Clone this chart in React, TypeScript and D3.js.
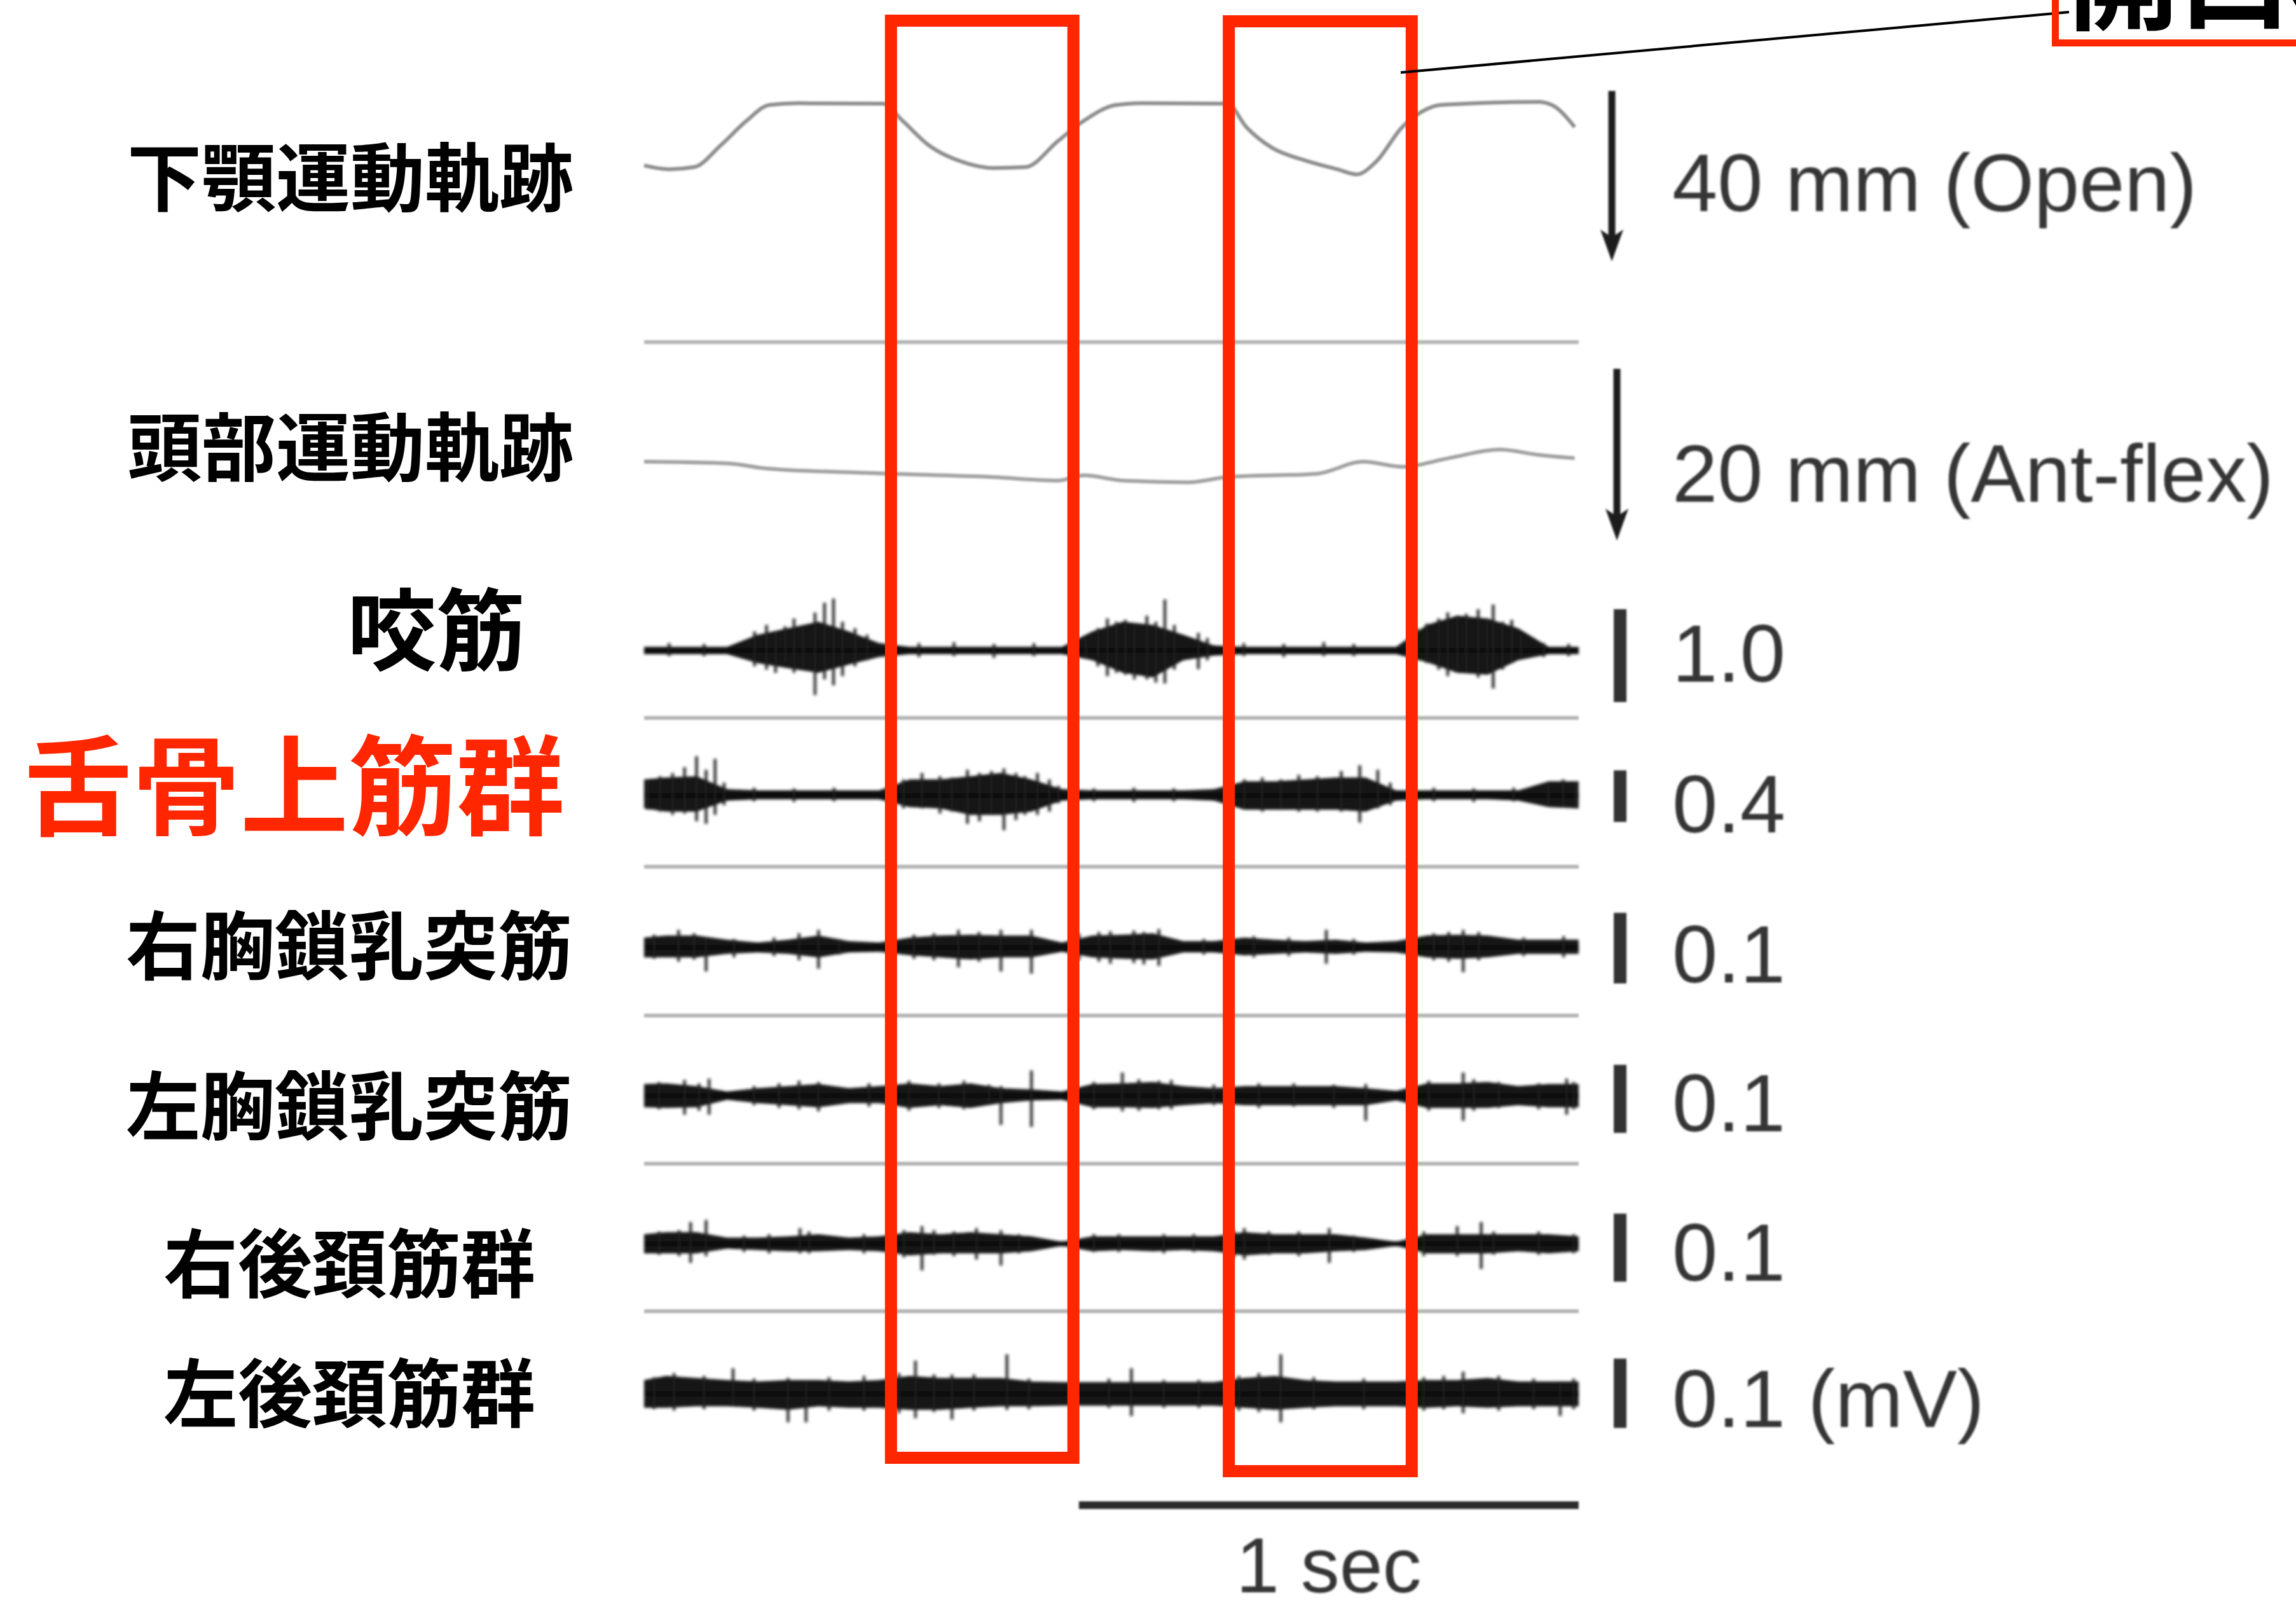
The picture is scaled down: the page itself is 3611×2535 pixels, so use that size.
import React from 'react';
import * as d3 from 'd3';

const W = 3611;
const H = 2535;

// time axis, seconds
const totalSec = 1.87;
const timeBarSec = [0.87, 1.87];
const openPhases = [[0.494, 0.859], [1.170, 1.536]];

// jaw movement (mm of opening, down = open)
const jawT = [0.0, 0.05, 0.10, 0.154, 0.205, 0.251, 0.309, 0.478, 0.517, 0.569, 0.646, 0.698, 0.763, 0.828, 0.880, 0.945, 0.997, 1.167, 1.205, 1.257, 1.322, 1.387, 1.426, 1.464, 1.517, 1.556, 1.594, 1.789, 1.816, 1.862];
const jawMm = [14.5, 15.4, 14.9, 9.7, 4.0, 0.3, -0.1, 0.0, 4.0, 9.7, 14.0, 15.1, 14.9, 8.8, 4.0, 0.3, -0.1, 0.0, 5.5, 10.4, 13.3, 15.4, 16.6, 13.7, 5.5, 1.9, 0.3, -0.4, 0.3, 5.5];

// head movement (mm, down = anterior flexion)
const headT = [0.0, 0.167, 0.245, 0.440, 0.698, 0.828, 0.880, 0.958, 1.088, 1.167, 1.347, 1.439, 1.517, 1.609, 1.712, 1.789, 1.862];
const headMm = [0, 0.2, 0.8, 1.3, 1.8, 2.2, 1.6, 2.2, 2.4, 1.8, 1.4, 0, 0.6, -0.4, -1.4, -0.8, -0.4];

// EMG envelopes (uV above / below baseline), sampled at emgTimes
const emgTimes = [0.000, 0.044, 0.105, 0.166, 0.227, 0.288, 0.349, 0.410, 0.470, 0.531, 0.592, 0.653, 0.714, 0.775, 0.836, 0.897, 0.958, 1.018, 1.079, 1.140, 1.201, 1.262, 1.323, 1.384, 1.444, 1.505, 1.566, 1.627, 1.688, 1.749, 1.810, 1.870];

const masseterUp = [40, 40, 40, 40, 170, 240, 310, 205, 80, 40, 40, 40, 40, 40, 40, 205, 310, 275, 170, 55, 40, 40, 40, 40, 40, 40, 275, 375, 345, 240, 40, 40];
const masseterDown = [40, 40, 40, 40, 135, 190, 240, 150, 70, 40, 40, 40, 40, 40, 40, 105, 240, 290, 105, 55, 40, 40, 40, 40, 40, 40, 125, 240, 260, 105, 40, 40];
const suprahyoidUp = [125, 140, 150, 50, 40, 40, 40, 40, 40, 125, 125, 150, 175, 125, 50, 40, 40, 40, 40, 50, 110, 110, 125, 140, 140, 40, 40, 40, 40, 40, 110, 110];
const suprahyoidDown = [100, 125, 125, 40, 30, 30, 30, 30, 30, 90, 100, 150, 150, 125, 40, 30, 30, 30, 30, 40, 110, 110, 110, 110, 125, 40, 30, 30, 30, 40, 90, 100];
const rScmUp = [14, 17, 17, 11, 7, 11, 17, 9, 7, 14, 17, 18, 17, 17, 7, 17, 18, 20, 9, 9, 14, 11, 9, 11, 7, 9, 17, 18, 17, 11, 11, 11];
const rScmDown = [14, 14, 14, 9, 7, 9, 14, 7, 6, 11, 14, 17, 14, 14, 6, 14, 16, 17, 7, 7, 11, 9, 7, 9, 6, 7, 14, 16, 14, 9, 9, 9];
const lScmUp = [17, 18, 14, 6, 11, 14, 17, 11, 14, 18, 14, 18, 11, 9, 6, 17, 18, 20, 14, 11, 14, 14, 14, 14, 11, 7, 18, 18, 20, 14, 17, 17];
const lScmDown = [17, 18, 17, 6, 11, 14, 17, 11, 11, 18, 14, 18, 11, 7, 6, 17, 17, 18, 14, 11, 14, 14, 14, 14, 14, 7, 18, 18, 18, 14, 17, 17];
const rNeckUp = [14, 17, 17, 9, 9, 11, 14, 9, 11, 17, 14, 17, 14, 11, 3, 11, 11, 11, 11, 11, 17, 14, 14, 14, 9, 3, 14, 14, 14, 14, 14, 11];
const rNeckDown = [14, 14, 14, 7, 9, 11, 11, 9, 11, 17, 14, 14, 14, 11, 3, 11, 9, 11, 9, 11, 17, 14, 14, 11, 9, 3, 14, 14, 14, 11, 14, 11];
const lNeckUp = [20, 26, 23, 20, 18, 20, 20, 18, 20, 26, 23, 23, 23, 18, 17, 17, 17, 17, 17, 17, 23, 26, 20, 18, 18, 18, 20, 20, 23, 18, 18, 18];
const lNeckDown = [20, 20, 18, 18, 20, 23, 18, 20, 20, 23, 23, 20, 18, 18, 17, 17, 17, 17, 17, 17, 20, 23, 20, 18, 18, 18, 20, 18, 20, 18, 18, 18];

// single spikes [t, up uV, down uV]
const masseterSpikes = [
  [0.221, 205, 170], [0.245, 275, 205], [0.263, 205, 240], [0.282, 260, 135], [0.300, 345, 240], [0.318, 240, 190],
  [0.342, 410, 480], [0.361, 515, 310], [0.379, 560, 375], [0.397, 310, 275], [0.422, 240, 170], [0.446, 170, 105],
  [0.884, 135, 80], [0.908, 240, 170], [0.927, 345, 275], [0.945, 310, 240], [0.963, 330, 260], [0.981, 275, 310],
  [1.006, 375, 310], [1.024, 310, 345], [1.042, 550, 355], [1.061, 275, 205], [1.109, 190, 200], [1.127, 135, 105],
  [1.547, 240, 105], [1.566, 290, 135], [1.590, 345, 205], [1.608, 410, 275], [1.627, 375, 240], [1.645, 395, 240],
  [1.669, 445, 290], [1.687, 345, 260], [1.699, 495, 410], [1.718, 310, 205], [1.736, 330, 135], [1.754, 170, 80],
  [0.05, 80, 60], [0.12, 70, 60], [0.55, 80, 70], [0.62, 90, 60], [0.70, 70, 80], [0.78, 80, 60],
  [1.20, 80, 60], [1.28, 70, 70], [1.36, 90, 60], [1.42, 70, 60], [1.80, 80, 70], [1.85, 70, 60],
];
const suprahyoidSpikes = [
  [0.008, 125, 110], [0.032, 150, 125], [0.057, 175, 150], [0.081, 220, 140], [0.105, 305, 200], [0.124, 200, 220],
  [0.142, 285, 150], [0.160, 100, 75],
  [0.519, 125, 100], [0.556, 175, 100], [0.592, 150, 140], [0.616, 140, 125], [0.647, 200, 220], [0.671, 175, 200],
  [0.695, 190, 150], [0.720, 210, 270], [0.744, 175, 190], [0.762, 150, 150], [0.787, 175, 150], [0.811, 125, 125], [0.829, 75, 60],
  [1.201, 125, 100], [1.237, 140, 125], [1.274, 125, 110], [1.310, 160, 125], [1.347, 150, 125], [1.395, 190, 125],
  [1.432, 235, 210], [1.468, 200, 100], [1.493, 100, 75], [1.809, 90, 75], [1.839, 125, 90], [1.864, 110, 100],
  [0.22, 60, 45], [0.30, 55, 50], [0.38, 60, 45], [0.90, 55, 45], [0.98, 60, 50], [1.06, 55, 45], [1.58, 60, 45], [1.66, 55, 50], [1.74, 60, 45],
];
const rScmSpikes = [
  [0.069, 25, 20], [0.124, 14, 34], [0.349, 25, 30], [0.629, 25, 28], [0.714, 25, 34], [0.775, 25, 37], [0.933, 23, 23],
  [1.030, 26, 26], [1.365, 25, 23], [1.639, 25, 35],
  [0.02, 18, 16], [0.10, 20, 17], [0.18, 12, 14], [0.26, 14, 12], [0.31, 20, 18], [0.39, 12, 10], [0.54, 18, 16], [0.58, 20, 18],
  [0.67, 22, 20], [0.87, 20, 18], [0.91, 22, 20], [0.98, 24, 22], [1.00, 22, 24], [1.12, 12, 10], [1.22, 16, 14], [1.29, 14, 12],
  [1.42, 12, 10], [1.58, 20, 18], [1.61, 22, 20], [1.67, 22, 18], [1.76, 14, 12], [1.84, 16, 14],
];
const lScmSpikes = [
  [0.081, 23, 28], [0.130, 25, 28], [0.349, 20, 23], [0.714, 14, 43], [0.775, 37, 46], [0.957, 34, 23], [1.055, 23, 20],
  [1.444, 17, 37], [1.639, 34, 37], [1.846, 25, 28],
  [0.03, 20, 20], [0.11, 18, 22], [0.22, 14, 14], [0.27, 18, 18], [0.31, 22, 20], [0.45, 18, 16], [0.53, 22, 22], [0.59, 18, 18],
  [0.64, 22, 20], [0.69, 16, 14], [0.90, 20, 20], [0.99, 24, 22], [1.03, 22, 20], [1.14, 16, 14], [1.23, 18, 18], [1.30, 18, 16],
  [1.38, 16, 18], [1.57, 22, 22], [1.66, 24, 22], [1.71, 20, 18], [1.79, 18, 20], [1.86, 20, 20],
];
const rNeckSpikes = [
  [0.093, 32, 28], [0.124, 35, 18], [0.312, 23, 14], [0.556, 26, 39], [0.665, 23, 23], [0.714, 20, 32], [1.201, 23, 23],
  [1.371, 23, 28], [1.627, 26, 18], [1.675, 32, 37],
  [0.03, 18, 16], [0.07, 20, 18], [0.20, 12, 12], [0.25, 14, 14], [0.33, 18, 14], [0.44, 14, 14], [0.52, 20, 20], [0.58, 20, 16],
  [0.62, 18, 18], [0.75, 14, 14], [0.90, 14, 12], [0.95, 14, 12], [1.04, 14, 14], [1.10, 14, 12], [1.18, 20, 20], [1.25, 18, 16],
  [1.31, 18, 18], [1.42, 12, 12], [1.56, 18, 18], [1.70, 18, 16], [1.79, 18, 16], [1.86, 14, 14],
];
const lNeckSpikes = [
  [0.178, 37, 18], [0.288, 23, 41], [0.324, 18, 41], [0.543, 48, 35], [0.616, 28, 37], [0.726, 57, 23], [0.975, 37, 32],
  [1.274, 57, 41], [1.639, 32, 28], [1.833, 18, 32],
  [0.02, 24, 22], [0.06, 30, 24], [0.12, 26, 22], [0.22, 22, 24], [0.37, 24, 24], [0.44, 26, 24], [0.51, 30, 28], [0.58, 28, 26],
  [0.66, 28, 24], [0.77, 22, 22], [0.86, 20, 20], [0.93, 22, 20], [1.04, 20, 20], [1.11, 20, 20], [1.19, 26, 24], [1.23, 30, 26],
  [1.34, 24, 22], [1.44, 22, 22], [1.56, 24, 24], [1.60, 26, 22], [1.71, 26, 24], [1.78, 22, 22], [1.86, 22, 22],
];

const traceLabels = ['下顎運動軌跡', '頭部運動軌跡'];
const emgLabels = ['咬筋', '舌骨上筋群', '右胸鎖乳突筋', '左胸鎖乳突筋', '右後頚筋群', '左後頚筋群'];
const calValues = [1.0, 0.4, 0.1, 0.1, 0.1, 0.1];
const calLabels = ['1.0', '0.4', '0.1', '0.1', '0.1', '0.1 (mV)'];
const moveCal = [40, 20];
const moveCalLabels = ['40 mm (Open)', '20 mm (Ant-flex)'];
const timeLabel = '1 sec';
const calloutLabel = '開口相';

const emgUp = [masseterUp, suprahyoidUp, rScmUp, lScmUp, rNeckUp, lNeckUp];
const emgDown = [masseterDown, suprahyoidDown, rScmDown, lScmDown, rNeckDown, lNeckDown];
const emgSpikes = [masseterSpikes, suprahyoidSpikes, rScmSpikes, lScmSpikes, rNeckSpikes, lNeckSpikes];

// layout
const emgBase = [1023, 1251, 1490, 1723, 1956, 2192];
const barH = [146, 81, 111, 107, 107, 109];
const barMid = [1031, 1252, 1491, 1728, 1962, 2191];
const calY = [1072, 1309, 1545, 1779, 2014, 2244];
const labelMid = [991, 1237, 1488, 1740, 1988, 2192];
const labelX = [546, 38, 198, 198, 257, 257];
const labelSize = [140, 170, 117, 117, 117, 117];
const separators = [538, 1129, 1363, 1597, 1830, 2062];
const RED = '#ff2600';
const CJK = '"Noto Sans CJK JP", "Noto Sans CJK SC", sans-serif';
const SANS = '"Liberation Sans", Arial, Helvetica, sans-serif';

export default function App() {
  const x = d3.scaleLinear().domain([0, totalSec]).range([1013, 1013 + totalSec * 786]);
  const jawY = d3.scaleLinear().domain([0, 40]).range([163, 163 + 268]);
  const headY = d3.scaleLinear().domain([0, 20]).range([726, 996]);

  const jawPath = d3.line<number>()
    .x((_, i) => x(jawT[i]))
    .y(d => jawY(d))
    .curve(d3.curveMonotoneX)(jawMm);
  const headPath = d3.line<number>()
    .x((_, i) => x(headT[i]))
    .y(d => headY(d))
    .curve(d3.curveMonotoneX)(headMm);

  const moveArrows = [
    { x: 2535, top: 143, len: jawY(moveCal[0]) - jawY(0), textY: 332 },
    { x: 2543, top: 580, len: headY(moveCal[1]) - headY(0), textY: 789 },
  ];

  return (
    <svg width={W} height={H} style={{ position: 'absolute', left: 0, top: 0, background: '#fff' }}>
      <defs>
        <filter id="soft" x="-5%" y="-50%" width="110%" height="200%">
          <feGaussianBlur stdDeviation="2.2" />
        </filter>
        <filter id="softer" x="-5%" y="-20%" width="110%" height="140%">
          <feGaussianBlur stdDeviation="1.4" />
        </filter>
      </defs>
      <rect width={W} height={H} fill="#fff" />

      {/* left labels */}
      {traceLabels.map((t, i) => (
        <text key={t} x={200} y={[280, 704][i] + 0.37 * 117} fontSize={117} fontWeight={700}
          fontFamily={CJK} fill="#000">{t}</text>
      ))}
      {emgLabels.map((t, i) => (
        <text key={t} x={labelX[i]} y={labelMid[i] + 0.37 * labelSize[i]} fontSize={labelSize[i]}
          fontWeight={700} fontFamily={CJK} fill={i === 1 ? RED : '#000'}>{t}</text>
      ))}

      {/* separators */}
      <g filter="url(#softer)">
        {separators.map(y => (
          <line key={y} x1={x(0)} x2={x(totalSec)} y1={y} y2={y} stroke="#b4b4b4" strokeWidth={6} />
        ))}
      </g>

      {/* movement traces */}
      <g filter="url(#softer)" fill="none">
        <path d={jawPath || ''} stroke="#8e8e8e" strokeWidth={6} />
        <path d={headPath || ''} stroke="#a2a2a2" strokeWidth={6} />
      </g>

      {/* EMG */}
      <g filter="url(#soft)">
        {emgUp.map((up, c) => {
          const amp = d3.scaleLinear().domain([0, calValues[c] * 1000]).range([0, barH[c]]);
          const base = emgBase[c];
          const down = emgDown[c];
          const area = d3.area<number>()
            .x((_, i) => x(emgTimes[i]))
            .y0((_, i) => base + amp(down[i]))
            .y1(d => base - amp(d))
            .curve(d3.curveLinear)(up);
          return (
            <g key={c}>
              <path d={area || ''} fill="#161616" />
              <line x1={x(0)} x2={x(totalSec)} y1={base} y2={base} stroke="#111" strokeWidth={8} />
              {emgSpikes[c].map((s, k) => (
                <line key={k} x1={x(s[0])} x2={x(s[0])} y1={base - amp(s[1])} y2={base + amp(s[2])}
                  stroke="#1c1c1c" strokeWidth={5} opacity={0.8} />
              ))}
            </g>
          );
        })}
      </g>

      {/* calibration: movement arrows */}
      <g filter="url(#softer)">
        {moveArrows.map((a, i) => {
          const tip = a.top + a.len;
          return (
            <g key={i}>
              <line x1={a.x} x2={a.x} y1={a.top} y2={tip - 30} stroke="#1e1e1e" strokeWidth={11} />
              <path d={`M${a.x},${tip} L${a.x - 18},${tip - 50} L${a.x},${tip - 38} L${a.x + 18},${tip - 50} Z`} fill="#1e1e1e" />
              <text x={2630} y={a.textY} fontSize={128} fontFamily={SANS} fill="#353535">{moveCalLabels[i]}</text>
            </g>
          );
        })}
        {calValues.map((v, c) => (
          <g key={c}>
            <rect x={2538} y={barMid[c] - barH[c] / 2} width={20} height={barH[c]} fill="#333" />
            <text x={2630} y={calY[c]} fontSize={128} fontFamily={SANS} fill="#353535">{calLabels[c]}</text>
          </g>
        ))}
        <line x1={x(timeBarSec[0])} x2={x(timeBarSec[1])} y1={2367} y2={2367} stroke="#2a2a2a" strokeWidth={12} />
        <text x={(x(timeBarSec[0]) + x(timeBarSec[1])) / 2} y={2504} fontSize={122} fontFamily={SANS}
          textAnchor="middle" fill="#353535">{timeLabel}</text>
      </g>

      {/* open-phase boxes */}
      {openPhases.map((p, i) => (
        <rect key={i} x={x(p[0])} y={[32.5, 33.5][i]} width={x(p[1]) - x(p[0])}
          height={[2260, 2280][i]} fill="none" stroke={RED} strokeWidth={19} />
      ))}

      {/* callout */}
      <line x1={2203} y1={114} x2={3254} y2={19} stroke="#000" strokeWidth={4} />
      <rect x={3232.5} y={-60} width={600} height={127.5} fill="none" stroke={RED} strokeWidth={11} />
      <text x={3252} y={33} fontSize={175} fontWeight={700} fontFamily={CJK} fill="#000">{calloutLabel}</text>
    </svg>
  );
}
